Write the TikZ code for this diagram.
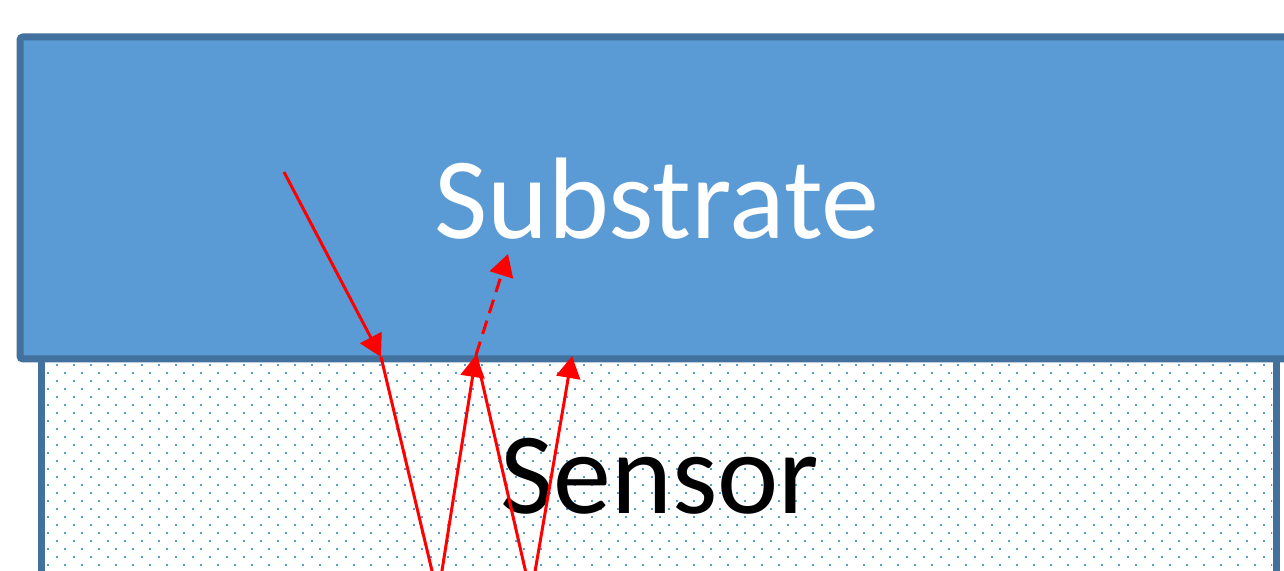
\documentclass[tikz,border=0pt]{standalone}
\usepackage{fontspec}
\setmainfont{Carlito}
\usetikzlibrary{arrows.meta}
\definecolor{layerfill}{HTML}{5B9BD5}
\definecolor{layeredge}{HTML}{41719C}
\tikzstyle{layer} = [draw=layeredge, line width=3.5pt, fill=layerfill]
\tikzstyle{sensorbox} = [draw=layeredge, line width=3.5pt, fill=white]
\tikzstyle{ray} = [draw=red, line width=1.5pt, line join=round]
\tikzstyle{tip} = [-{Triangle[length=11pt,width=12pt]}]
\tikzstyle{label} = [inner sep=0pt, anchor=base, font=\fontsize{58}{70}\selectfont]

\begin{document}
\begin{tikzpicture}[x=0.5pt, y=-0.5pt]
  \useasboundingbox (0,0) rectangle (1284,571);
  \clip (0,0) rectangle (1284,571);

  % sensor layer with dots
  \path [sensorbox] (41,359) rectangle (1276,640);
  \begin{scope}
    \clip (45,362) rectangle (1272,640);
    \foreach \r in {0,...,13} {
      \foreach \c in {0,...,72} {
        \fill [layerfill] (57+17*\c-1,365+16*\r-1) rectangle ++(2,2);
        \fill [layerfill] (48+17*\c-1,373+16*\r-1) rectangle ++(2,2);
      }
    }
  \end{scope}

  % substrate layer
  \path [layer, rounded corners=1.5pt] (20,37) rectangle (1300,359);

  % labels
  \node [label, text=white] (substrate) at (657,239) {Substrate};
  \node [label, text=black] (sensor) at (660,513) {Sensor};

  % ray points
  \coordinate (src) at (284,172);
  \coordinate (hitA) at (381,357);
  \coordinate (botA) at (438,596);
  \coordinate (hitB) at (476,355);
  \coordinate (out) at (508,254);
  \coordinate (botB) at (531,595);
  \coordinate (hitC) at (572,356);

  % rays
  \path [ray, tip] (src) -- (hitA);
  \path [ray] (hitA) -- (botA);
  \path [ray, tip] (botA) -- (hitB);
  \path [ray, tip, dash pattern=on 7pt off 4pt] (hitB) -- (out);
  \path [ray] (hitB) -- (botB);
  \path [ray, tip] (botB) -- (hitC);
\end{tikzpicture}
\end{document}
